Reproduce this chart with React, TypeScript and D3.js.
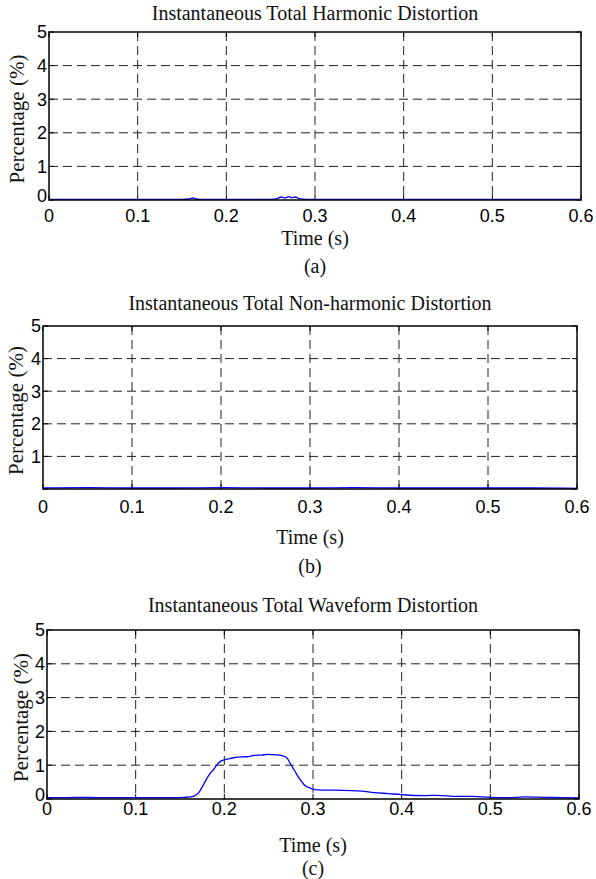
import { useEffect, useRef } from 'react'
import * as d3 from 'd3'

const X_TICKS = [0, 0.1, 0.2, 0.3, 0.4, 0.5, 0.6]
const Y_TICKS = [0, 1, 2, 3, 4, 5]

// (a) harmonic distortion
const harmT = [0, 0.05, 0.1, 0.15, 0.158, 0.162, 0.166, 0.17, 0.2, 0.25, 0.258, 0.262, 0.266, 0.27, 0.274, 0.278, 0.282, 0.29, 0.35, 0.4, 0.5, 0.6]
const harmV = [0.02, 0.02, 0.02, 0.02, 0.03, 0.06, 0.03, 0.02, 0.02, 0.02, 0.05, 0.09, 0.06, 0.1, 0.07, 0.09, 0.04, 0.02, 0.02, 0.02, 0.02, 0.02]

// (b) non-harmonic distortion
const nonT = [0, 0.05, 0.1, 0.15, 0.2, 0.25, 0.3, 0.35, 0.4, 0.45, 0.5, 0.55, 0.6]
const nonV = [0.03, 0.04, 0.03, 0.03, 0.04, 0.03, 0.03, 0.04, 0.03, 0.03, 0.03, 0.03, 0.02]

// (c) waveform distortion
const waveT = [0, 0.02, 0.04, 0.06, 0.08, 0.1, 0.12, 0.14, 0.155, 0.162, 0.168, 0.172, 0.177, 0.183, 0.188, 0.192, 0.196, 0.2, 0.207, 0.215, 0.225, 0.234, 0.242, 0.249, 0.256, 0.262, 0.267, 0.271, 0.275, 0.279, 0.283, 0.287, 0.29, 0.294, 0.298, 0.305, 0.315, 0.325, 0.343, 0.355, 0.369, 0.385, 0.4, 0.425, 0.44, 0.463, 0.48, 0.5, 0.52, 0.538, 0.56, 0.58, 0.6]
const waveV = [0.04, 0.04, 0.05, 0.04, 0.04, 0.04, 0.04, 0.04, 0.05, 0.06, 0.12, 0.22, 0.45, 0.72, 0.88, 1.02, 1.12, 1.16, 1.2, 1.24, 1.25, 1.29, 1.3, 1.32, 1.31, 1.3, 1.27, 1.2, 1.02, 0.85, 0.67, 0.52, 0.42, 0.35, 0.31, 0.27, 0.26, 0.26, 0.25, 0.23, 0.19, 0.16, 0.13, 0.1, 0.11, 0.08, 0.08, 0.05, 0.04, 0.06, 0.05, 0.04, 0.03]

const PANELS = [
  { title: 'Instantaneous Total Harmonic Distortion', tag: '(a)', t: harmT, v: harmV, left: 49, right: 581, top: 32, bottom: 200, titleY: 20, ylabX: 17, xlabOff: 22, timeY: 238, tagY: 266, zeroLabel: true },
  { title: 'Instantaneous Total Non-harmonic Distortion', tag: '(b)', t: nonT, v: nonV, left: 43, right: 577, top: 326, bottom: 489, titleY: 310, ylabX: 16, xlabOff: 24, timeY: 537, tagY: 566, zeroLabel: false },
  { title: 'Instantaneous Total Waveform Distortion', tag: '(c)', t: waveT, v: waveV, left: 47, right: 579, top: 630, bottom: 799, titleY: 612, ylabX: 21, xlabOff: 16, timeY: 845, tagY: 868, zeroLabel: true },
]

const SERIF = '"Liberation Serif", "Times New Roman", serif'
const SANS = '"Liberation Sans", Arial, sans-serif'

export default function App() {
  const ref = useRef<SVGSVGElement>(null)

  useEffect(() => {
    const svg = d3.select(ref.current!)
    svg.selectAll('*').remove()

    PANELS.forEach((p) => {
      const x = d3.scaleLinear().domain([0, 0.6]).range([p.left, p.right])
      const y = d3.scaleLinear().domain([0, 5]).range([p.bottom, p.top])
      const g = svg.append('g')
      const cx = (p.left + p.right) / 2

      // grid
      X_TICKS.slice(1, -1).forEach((t) => {
        g.append('line').attr('x1', x(t)).attr('x2', x(t)).attr('y1', p.top).attr('y2', p.bottom)
          .attr('stroke', '#222').attr('stroke-width', 1).attr('stroke-dasharray', '9,5')
      })
      Y_TICKS.slice(1, -1).forEach((v) => {
        g.append('line').attr('x1', p.left).attr('x2', p.right).attr('y1', y(v)).attr('y2', y(v))
          .attr('stroke', '#222').attr('stroke-width', 1).attr('stroke-dasharray', '9,5')
      })

      // inward ticks on all sides
      X_TICKS.forEach((t) => {
        g.append('line').attr('x1', x(t)).attr('x2', x(t)).attr('y1', p.bottom).attr('y2', p.bottom - 5).attr('stroke', '#000')
        g.append('line').attr('x1', x(t)).attr('x2', x(t)).attr('y1', p.top).attr('y2', p.top + 5).attr('stroke', '#000')
      })
      Y_TICKS.forEach((v) => {
        g.append('line').attr('x1', p.left).attr('x2', p.left + 5).attr('y1', y(v)).attr('y2', y(v)).attr('stroke', '#000')
        g.append('line').attr('x1', p.right).attr('x2', p.right - 5).attr('y1', y(v)).attr('y2', y(v)).attr('stroke', '#000')
      })

      // data line
      const pts = p.t.map((t, i) => [t, p.v[i]] as [number, number])
      const line = d3.line<[number, number]>().x((d) => x(d[0])).y((d) => y(d[1])).curve(d3.curveMonotoneX)
      g.append('path').attr('d', line(pts) ?? '').attr('fill', 'none').attr('stroke', '#0000ff').attr('stroke-width', 1.3)

      // box
      g.append('rect').attr('x', p.left).attr('y', p.top).attr('width', p.right - p.left).attr('height', p.bottom - p.top)
        .attr('fill', 'none').attr('stroke', '#000').attr('stroke-width', 1.5)

      // tick labels
      X_TICKS.forEach((t) => {
        g.append('text').attr('x', x(t)).attr('y', p.bottom + p.xlabOff).attr('text-anchor', 'middle')
          .attr('font-family', SANS).attr('font-size', 18).attr('fill', '#000').text(t === 0 ? '0' : String(t))
      })
      Y_TICKS.forEach((v) => {
        if (v === 0 && !p.zeroLabel) return
        g.append('text').attr('x', p.left - 2).attr('y', y(v)).attr('dy', v === 0 ? '0.1em' : '0.36em').attr('text-anchor', 'end')
          .attr('font-family', SANS).attr('font-size', 18).attr('fill', '#000').text(String(v))
      })

      // titles and labels
      g.append('text').attr('x', cx).attr('y', p.titleY).attr('text-anchor', 'middle')
        .attr('font-family', SERIF).attr('font-size', 20).attr('fill', '#111').text(p.title)
      g.append('text').attr('transform', `translate(${p.ylabX},${(p.top + p.bottom) / 2 + 3}) rotate(-90)`)
        .attr('text-anchor', 'middle').attr('dominant-baseline', 'central')
        .attr('font-family', SERIF).attr('font-size', 21).attr('fill', '#111').text('Percentage (%)')
      g.append('text').attr('x', cx).attr('y', p.timeY).attr('dy', '0.35em').attr('text-anchor', 'middle')
        .attr('font-family', SERIF).attr('font-size', 20).attr('fill', '#111').text('Time (s)')
      g.append('text').attr('x', cx).attr('y', p.tagY).attr('dy', '0.35em').attr('text-anchor', 'middle')
        .attr('font-family', SERIF).attr('font-size', 20).attr('fill', '#111').text(p.tag)
    })
  }, [])

  return (
    <svg ref={ref} width={596} height={879}
      style={{ position: 'absolute', left: 0, top: 0, background: '#fff' }} />
  )
}
